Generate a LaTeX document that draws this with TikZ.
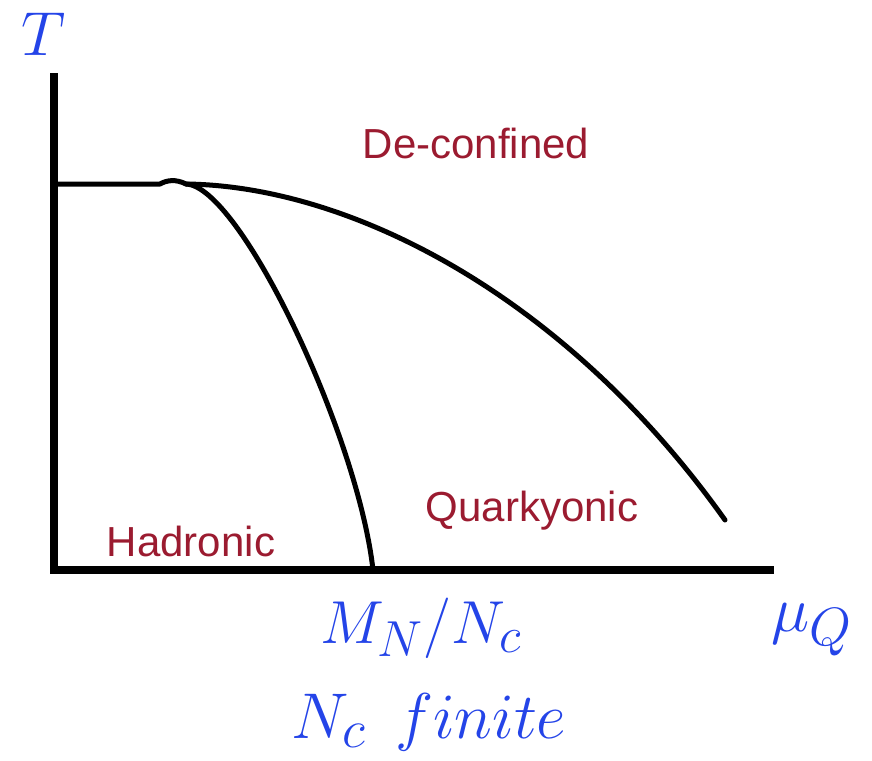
\documentclass[tikz,border=0pt]{standalone}
\usepackage{graphicx}
\usepackage{fontspec}
\newfontfamily\labfont{Liberation Sans}
\definecolor{axisblue}{HTML}{2444E8}
\definecolor{regred}{HTML}{9B1B30}
\newcommand{\bigmath}[2]{\scalebox{#1}{\fontsize{24.88}{30}\selectfont$#2$}}
\tikzset{
  curve/.style={line width=2.5pt, line cap=round, line join=round},
  axisline/.style={line width=4pt},
  region/.style={text=regred, font=\labfont\fontsize{21}{25}\selectfont, inner sep=0pt},
  mathlab/.style={text=axisblue, inner sep=0pt}
}
\begin{document}
\begin{tikzpicture}[x=0.5pt,y=-0.5pt]
\useasboundingbox (0,0) rectangle (872,760);
% axes
\draw[axisline] (54,73) -- (54,570) -- (774,570);
% outer boundary
\draw[curve] (56,184) -- (160,184) .. controls (167,180) and (176,179) .. (186,184)
  .. controls (350,186) and (565,295) .. (725,520);
% inner boundary
\draw[curve] (186,184) .. controls (240,186) and (358,435) .. (373,570);
% labels
\node[mathlab] (T) at (44,34) {\bigmath{1.25}{T}};
\node[region] (dec) at (476,143) {De-confined};
\node[region] (quark) at (532,511) {Quarkyonic};
\node[region] (had) at (191,541) {Hadronic};
\node[mathlab] (mn) at (421,628) {\bigmath{1.22}{M_N/N_c}};
\node[mathlab] (mu) at (812,630) {\bigmath{1.3}{\mu_Q}};
\node[mathlab] (nc) at (429,722) {\bigmath{1.3}{N_c\;\, finite}};
\end{tikzpicture}
\end{document}
